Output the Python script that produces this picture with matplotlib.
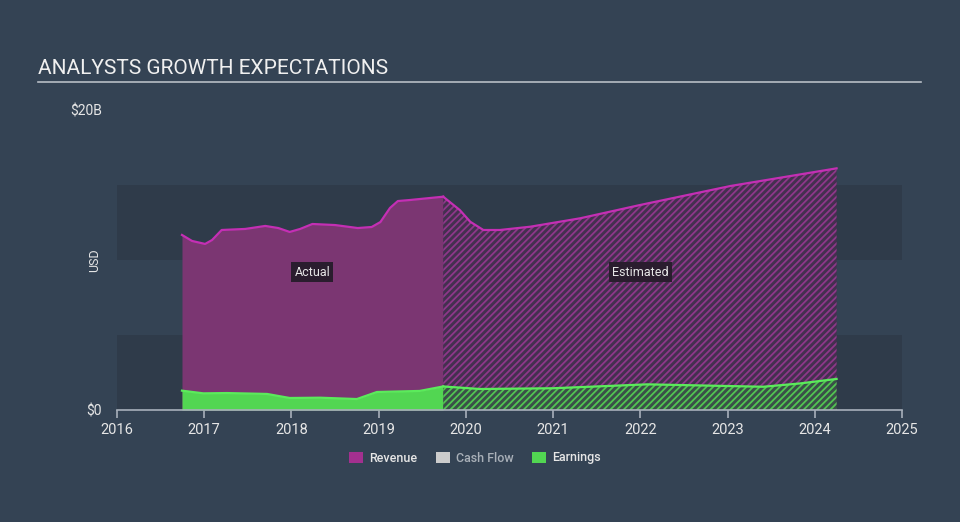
import matplotlib
matplotlib.use("Agg")
import matplotlib.pyplot as plt
from matplotlib.patches import Patch

plt.rcParams['font.family'] = ['Roboto', 'DejaVu Sans']
plt.rcParams['hatch.linewidth'] = 1.3

# Data (USD billions)
rev_actual_x = [2016.745, 2016.86, 2017.01, 2017.09, 2017.20, 2017.47, 2017.70, 2017.85, 2017.98,
                2018.10, 2018.24, 2018.50, 2018.76, 2018.92, 2019.02, 2019.13, 2019.22, 2019.36, 2019.74]
rev_actual_y = [11.67, 11.27, 11.07, 11.33, 12.0, 12.07, 12.27, 12.13, 11.87,
                12.07, 12.4, 12.33, 12.13, 12.2, 12.53, 13.47, 13.93, 14.0, 14.22]
rev_est_x = [2019.74, 2019.93, 2020.05, 2020.20, 2020.39, 2020.74, 2021.31, 2022.0, 2023.03, 2024.25]
rev_est_y = [14.22, 13.33, 12.55, 12.0, 12.0, 12.22, 12.78, 13.67, 14.93, 16.11]

earn_actual_x = [2016.745, 2016.99, 2017.26, 2017.72, 2017.98, 2018.33, 2018.75, 2018.98, 2019.47, 2019.74]
earn_actual_y = [1.29, 1.11, 1.13, 1.07, 0.80, 0.82, 0.73, 1.2, 1.27, 1.57]
earn_est_x = [2019.74, 2020.16, 2021.0, 2022.08, 2023.41, 2023.83, 2024.25]
earn_est_y = [1.57, 1.4, 1.45, 1.71, 1.55, 1.77, 2.07]

years = [2016, 2017, 2018, 2019, 2020, 2021, 2022, 2023, 2024, 2025]
legend_labels = ["Revenue", "Cash Flow", "Earnings"]

BG = '#344354'
BAND = '#2f3b4a'
REV_FILL = '#7b3672'
REV_LINE = '#c42fb4'
REV_HATCH_BG = '#44304f'
REV_HATCH = '#8e378a'
EARN_FILL = '#52d652'
EARN_LINE = '#5beb5b'
EARN_HATCH_BG = '#3a5048'
EARN_HATCH = '#52c452'
AXIS = '#a8b0bb'
TEXT = '#e6e6e6'

W, H = 960, 522
fig = plt.figure(figsize=(9.6, 5.22), dpi=100, facecolor=BG)
ax = fig.add_axes([117 / W, (H - 410) / H, (902 - 117) / W, 300 / H])
ax.set_facecolor(BG)
ax.set_xlim(2016, 2025)
ax.set_ylim(0, 20)

# background bands
ax.axhspan(10, 15, color=BAND, zorder=0, lw=0)
ax.axhspan(0, 5, color=BAND, zorder=0, lw=0)

# revenue actual
ax.fill_between(rev_actual_x, 0, rev_actual_y, color=REV_FILL, lw=0, zorder=1)
ax.plot(rev_actual_x, rev_actual_y, color=REV_LINE, lw=1.6, zorder=3)
# revenue estimated
ax.fill_between(rev_est_x, 0, rev_est_y, facecolor=REV_HATCH_BG, edgecolor=REV_HATCH,
                hatch='/////', lw=0, zorder=1)
ax.plot(rev_est_x, rev_est_y, color=REV_LINE, lw=1.6, zorder=3)

# earnings actual
ax.fill_between(earn_actual_x, 0, earn_actual_y, color=EARN_FILL, lw=0, zorder=2)
ax.plot(earn_actual_x, earn_actual_y, color=EARN_LINE, lw=1.6, zorder=3)
# earnings estimated
ax.fill_between(earn_est_x, 0, earn_est_y, facecolor=EARN_HATCH_BG, edgecolor=EARN_HATCH,
                hatch='/////', lw=0, zorder=2)
ax.plot(earn_est_x, earn_est_y, color=EARN_LINE, lw=1.6, zorder=3)

# axes styling
for s in ['top', 'right', 'left']:
    ax.spines[s].set_visible(False)
ax.spines['bottom'].set_color(AXIS)
ax.spines['bottom'].set_linewidth(1.2)
ax.set_xticks(years)
ax.set_xticklabels([str(y) for y in years])
ax.tick_params(axis='x', colors=AXIS, length=6, width=1.2, labelcolor=TEXT, labelsize=10.5, pad=3)
ax.set_yticks([0, 20])
ax.set_yticklabels(['$0', '$20B'])
ax.tick_params(axis='y', length=0, labelcolor=TEXT, labelsize=10, pad=11)

fig.text(95 / W, 1 - 260 / H, 'USD', rotation=90, color=TEXT, fontsize=9,
         ha='center', va='center')

# Actual / Estimated labels
box = dict(boxstyle='square,pad=0.25', fc='#2a1d2e', ec='none')
ax.text(2018.24, 9.2, 'Actual', color=TEXT, fontsize=9, ha='center', va='center', bbox=box, zorder=5)
ax.text(2022.0, 9.2, 'Estimated', color=TEXT, fontsize=9, ha='center', va='center', bbox=box, zorder=5)

# Title
fig.text(38 / W, 1 - 69 / H, 'ANALYSTS GROWTH EXPECTATIONS', color='#f0f0f0', fontsize=15,
         ha='left', va='center')
fig.add_artist(plt.Line2D([38 / W, 921 / W], [1 - 82 / H, 1 - 82 / H], color='#b8bec6', lw=1.2))

# Legend
handles = [Patch(facecolor='#a3308f', edgecolor='none'),
           Patch(facecolor='#cccccc', edgecolor='none'),
           Patch(facecolor=EARN_FILL, edgecolor='none')]
leg = fig.legend(handles, legend_labels, loc='center', bbox_to_anchor=(475 / W, 1 - 458 / H),
                 ncol=3, frameon=False, fontsize=9, handlelength=1.1, handleheight=1.0,
                 handletextpad=0.5, columnspacing=1.5,
                 prop={'family': ['Roboto', 'DejaVu Sans'], 'size': 9, 'weight': 'medium'})
for t, c in zip(leg.get_texts(), [TEXT, '#a9b0b8', TEXT]):
    t.set_color(c)

fig.savefig('out.png', dpi=100, facecolor=BG)
